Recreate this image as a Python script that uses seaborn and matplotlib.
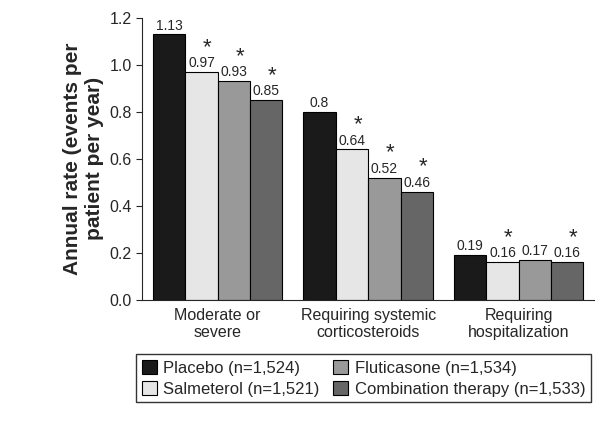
import pandas as pd
import matplotlib.pyplot as plt
import seaborn as sns

groups = ["Moderate or\nsevere", "Requiring systemic\ncorticosteroids", "Requiring\nhospitalization"]
treatments = ["Placebo (n=1,524)", "Salmeterol (n=1,521)", "Fluticasone (n=1,534)", "Combination therapy (n=1,533)"]
rates = [[1.13, 0.97, 0.93, 0.85],
         [0.80, 0.64, 0.52, 0.46],
         [0.19, 0.16, 0.17, 0.16]]
labels = [["1.13", "0.97", "0.93", "0.85"],
          ["0.8", "0.64", "0.52", "0.46"],
          ["0.19", "0.16", "0.17", "0.16"]]
signif = [[False, True, True, True],
          [False, True, True, True],
          [False, True, False, True]]
colors = ["#1a1a1a", "#e6e6e6", "#999999", "#666666"]

rows = []
for g, vals in zip(groups, rates):
    for t, v in zip(treatments, vals):
        rows.append({"group": g, "treatment": t, "rate": v})
df = pd.DataFrame(rows)

sns.set_style("white")
plt.rcParams['font.family'] = ['Liberation Sans', 'DejaVu Sans']
fig = plt.figure(figsize=(6.06, 4.28), dpi=100)
ax = fig.add_axes([0.235, 0.30, 0.745, 0.658])
sns.barplot(data=df, x="group", y="rate", hue="treatment", palette=colors,
            edgecolor="black", linewidth=0.8, width=0.86, ax=ax, legend=True)

for i, cont in enumerate(ax.containers):
    for j, bar in enumerate(cont):
        x = bar.get_x() + bar.get_width() / 2
        h = bar.get_height()
        ax.text(x, h + 0.008, labels[j][i], ha="center", va="bottom", fontsize=10)
        if signif[j][i]:
            ax.text(x + 0.04, h + 0.06, "*", ha="center", va="bottom", fontsize=16)

ax.set_ylim(0, 1.2)
ax.set_yticks([0, 0.2, 0.4, 0.6, 0.8, 1.0, 1.2])
ax.set_yticklabels(["0.0", "0.2", "0.4", "0.6", "0.8", "1.0", "1.2"])
ax.set_xlim(-0.5, 2.5)
ax.set_xlabel("")
ax.set_ylabel("Annual rate (events per\npatient per year)", fontsize=15, fontweight="bold")
ax.tick_params(axis="both", labelsize=11.5, length=4, left=True, bottom=True)
ax.tick_params(axis="x", length=0, pad=6)
sns.despine(ax=ax)

handles, lbls = ax.get_legend_handles_labels()
ax.legend(handles, lbls, ncol=2, loc="upper center", bbox_to_anchor=(0.49, -0.165),
          frameon=True, fancybox=False, edgecolor="black", fontsize=12,
          handlelength=0.9, handleheight=0.9, columnspacing=0.8, borderpad=0.35,
          labelspacing=0.3, handletextpad=0.4)

fig.savefig("out.png", dpi=100)
